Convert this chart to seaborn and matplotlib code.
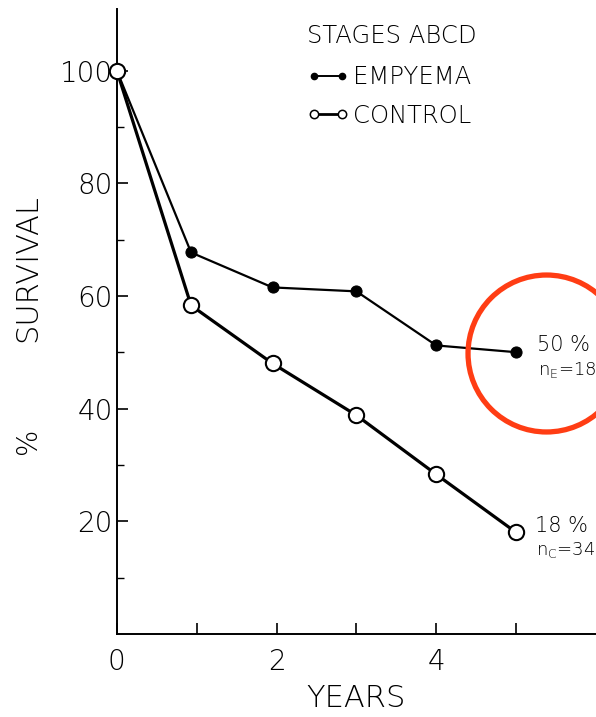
import matplotlib
matplotlib.use("Agg")
import matplotlib.pyplot as plt
from matplotlib.lines import Line2D
import seaborn as sns
import pandas as pd

# Survival over time, stages A-D
years_empyema = [0, 0.93, 1.95, 3.0, 4.0, 5.0]
survival_empyema = [100, 67.7, 61.5, 60.8, 51.2, 50]
years_control = [0, 0.93, 1.95, 3.0, 4.0, 5.0]
survival_control = [100, 58.3, 48.0, 38.8, 28.3, 18]

x_ticks_major = [0, 2, 4]
x_ticks_minor = [1, 3, 5]
y_ticks_major = [20, 40, 60, 80, 100]
y_ticks_minor = [10, 30, 50, 70, 90]

end_label_empyema = ["50 %", r"n$_\mathregular{E}$=18"]
end_label_control = ["18 %", r"n$_\mathregular{C}$=34"]

sns.set_theme(style="ticks")
plt.rcParams["font.family"] = ["DejaVu Sans"]
plt.rcParams["mathtext.default"] = "regular"
for key in ["text.color", "axes.labelcolor", "xtick.color", "ytick.color",
            "axes.edgecolor"]:
    plt.rcParams[key] = "black"

df_e = pd.DataFrame({"year": years_empyema, "survival": survival_empyema})
df_c = pd.DataFrame({"year": years_control, "survival": survival_control})

fig = plt.figure(figsize=(5.96, 7.17), dpi=100)
ax = fig.add_axes([0.196, 0.116, 0.804, 0.872])

sns.lineplot(data=df_e, x="year", y="survival", ax=ax, color="black",
             linewidth=1.6, marker="o", markersize=8, markerfacecolor="black",
             markeredgecolor="black", clip_on=False, zorder=3)
sns.lineplot(data=df_c, x="year", y="survival", ax=ax, color="black",
             linewidth=2.3, marker="o", markersize=11, markerfacecolor="white",
             markeredgecolor="black", markeredgewidth=1.5, clip_on=False, zorder=3)

ax.set_xlim(0, 6.0)
ax.set_ylim(0, 111)
ax.set_xticks(x_ticks_major)
ax.set_xticks(x_ticks_minor, minor=True)
ax.set_yticks(y_ticks_major)
ax.set_yticks(y_ticks_minor, minor=True)
ax.set_xticklabels([str(v) for v in x_ticks_major])
ax.set_yticklabels([str(v) for v in y_ticks_major])
ax.tick_params(axis="both", which="major", direction="in", length=8, width=1.2,
               labelsize=20, colors="black", pad=6)
ax.tick_params(axis="x", which="minor", direction="in", length=8, width=1.2,
               colors="black")
ax.tick_params(axis="y", which="minor", direction="in", length=5, width=1.0,
               colors="black")
ax.tick_params(axis="y", which="major", pad=3)
ax.tick_params(axis="x", which="major", pad=10)
for lbl in ax.get_xticklabels() + ax.get_yticklabels():
    lbl.set_fontweight("light")

sns.despine(ax=ax)
ax.spines["left"].set_linewidth(1.4)
ax.spines["bottom"].set_linewidth(1.4)
ax.set_xlabel("YEARS", fontsize=22, fontweight="light", labelpad=6)
ax.set_ylabel("")

fig.text(0.047, 0.385, "%", rotation=90, fontsize=20, ha="center", va="center",
         fontweight="light")
fig.text(0.047, 0.626, "SURVIVAL", rotation=90, fontsize=22, ha="center", va="center",
         fontweight="light")

# End-of-series labels
ax.text(years_empyema[-1] + 0.26, survival_empyema[-1] + 1.2, end_label_empyema[0],
        fontsize=15, va="center", ha="left", fontweight="light")
ax.text(years_empyema[-1] + 0.27, survival_empyema[-1] - 3.2, end_label_empyema[1],
        fontsize=13, va="center", ha="left", fontweight="light")
ax.text(years_control[-1] + 0.23, survival_control[-1] + 1.2, end_label_control[0],
        fontsize=15, va="center", ha="left", fontweight="light")
ax.text(years_control[-1] + 0.25, survival_control[-1] - 3.2, end_label_control[1],
        fontsize=13, va="center", ha="left", fontweight="light")

# Highlight ring around the empyema end point
ax.plot([5.37], [49.9], marker="o", markersize=113, markerfacecolor="none",
        markeredgecolor="#ff3d14", markeredgewidth=3.8, clip_on=False, zorder=4)

handles = [
    Line2D([0], [0], color="black", linewidth=1.4, marker="o", markersize=4.5,
           markerfacecolor="black", markeredgecolor="black"),
    Line2D([0], [0], color="black", linewidth=2.0, marker="o", markersize=6,
           markerfacecolor="white", markeredgecolor="black", markeredgewidth=1.1),
]
leg = ax.legend(handles, ["EMPYEMA", "CONTROL"], title="STAGES ABCD", numpoints=2,
                frameon=False, loc="upper left", bbox_to_anchor=(0.515, 0.966),
                bbox_transform=fig.transFigure, fontsize=17.5, title_fontsize=17.5,
                handlelength=1.75, handletextpad=0.15, labelspacing=0.6,
                borderaxespad=0, borderpad=0)
leg._legend_box.align = "left"
leg._legend_box.sep = 12
for t in leg.get_texts():
    t.set_color("black")
    t.set_fontweight("light")
leg.get_title().set_color("black")
leg.get_title().set_fontweight("light")

fig.savefig("out.png", dpi=100)
